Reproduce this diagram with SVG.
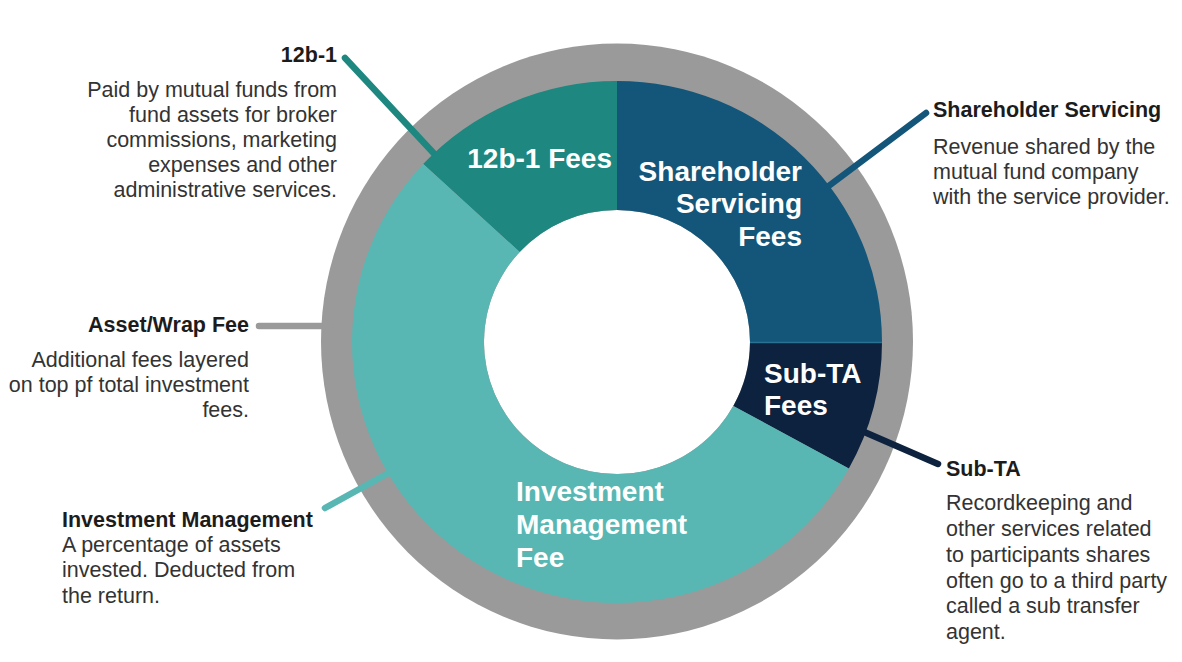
<svg xmlns="http://www.w3.org/2000/svg" width="1182" height="662" viewBox="0 0 1182 662">
<style>
.t{font-family:"Liberation Sans",Arial,sans-serif;font-size:21.5px;font-weight:bold;fill:#1c1c1c}
.b{font-family:"Liberation Sans",Arial,sans-serif;font-size:21.5px;fill:#333333}
.l{font-family:"Liberation Sans",Arial,sans-serif;font-size:28px;font-weight:bold;fill:#ffffff}
.r{text-anchor:end}
.c{fill:none;stroke-width:6.5;stroke-linecap:round}
</style>
<rect width="1182" height="662" fill="#ffffff"/>
<g id="asset-wrap-ring">
<ellipse cx="617" cy="341.5" rx="296" ry="298" fill="#9a9a9a"/>
<ellipse cx="617" cy="342" rx="133" ry="132" fill="#ffffff"/>
</g>
<g id="connectors">
<line class="c" x1="345" y1="58" x2="440" y2="160" stroke="#1d8780"/>
<line class="c" x1="926" y1="113" x2="826" y2="188" stroke="#13567a"/>
<line class="c" x1="259" y1="326" x2="330" y2="326" stroke="#9a9a9a" stroke-width="7.5"/>
<line class="c" x1="325" y1="508" x2="392" y2="471" stroke="#58b7b3"/>
<line class="c" x1="938" y1="464" x2="862" y2="431" stroke="#0c223f"/>
</g>
<g id="seg-12b1">
<path d="M423.2,164 A265,261 0 0 1 617,81 L617,210 A133,132 0 0 0 519.7,252 Z" fill="#1d8780"/>
<text class="l r" x="612" y="168">12b-1 Fees</text>
</g>
<g id="seg-shareholder">
<path d="M617,81 A265,261 0 0 1 882,342 L750,342 A133,132 0 0 0 617,210 Z" fill="#13567a"/>
<text class="l r" x="802" y="181">Shareholder</text>
<text class="l r" x="802" y="213">Servicing</text>
<text class="l r" x="802" y="246">Fees</text>
</g>
<g id="seg-subta">
<path d="M882,342 A265,261 0 0 1 848.8,468.5 L733.3,406 A133,132 0 0 0 750,342 Z" fill="#0c223f"/>
<line x1="750" y1="342.5" x2="882" y2="342.5" stroke="#2a7193" stroke-width="1.5"/>
<text class="l" x="764" y="383">Sub-TA</text>
<text class="l" x="764" y="415">Fees</text>
</g>
<g id="seg-investment">
<path d="M848.8,468.5 A265,261 0 1 1 423.2,164 L519.7,252 A133,132 0 1 0 733.3,406 Z" fill="#58b7b3"/>
<text class="l" x="516" y="501">Investment</text>
<text class="l" x="516" y="534">Management</text>
<text class="l" x="516" y="567">Fee</text>
</g>
<g id="note-12b1">
<text class="t r" x="337" y="62">12b-1</text>
<text class="b r" x="337" y="97">Paid by mutual funds from</text>
<text class="b r" x="337" y="122">fund assets for broker</text>
<text class="b r" x="337" y="147">commissions, marketing</text>
<text class="b r" x="337" y="172">expenses and other</text>
<text class="b r" x="337" y="197">administrative services.</text>
</g>
<g id="note-shareholder">
<text class="t" x="933" y="117">Shareholder Servicing</text>
<text class="b" x="933" y="154">Revenue shared by the</text>
<text class="b" x="933" y="179">mutual fund company</text>
<text class="b" x="933" y="204">with the service provider.</text>
</g>
<g id="note-asset-wrap">
<text class="t r" x="249" y="332">Asset/Wrap Fee</text>
<text class="b r" x="249" y="367">Additional fees layered</text>
<text class="b r" x="249" y="392">on top pf total investment</text>
<text class="b r" x="249" y="417">fees.</text>
</g>
<g id="note-investment">
<text class="t" x="62" y="527">Investment Management</text>
<text class="b" x="62" y="552">A percentage of assets</text>
<text class="b" x="62" y="577">invested. Deducted from</text>
<text class="b" x="62" y="603">the return.</text>
</g>
<g id="note-subta">
<text class="t" x="946" y="476">Sub-TA</text>
<text class="b" x="946" y="510">Recordkeeping and</text>
<text class="b" x="946" y="536">other services related</text>
<text class="b" x="946" y="562">to participants shares</text>
<text class="b" x="946" y="588">often go to a third party</text>
<text class="b" x="946" y="613">called a sub transfer</text>
<text class="b" x="946" y="639">agent.</text>
</g>
</svg>
